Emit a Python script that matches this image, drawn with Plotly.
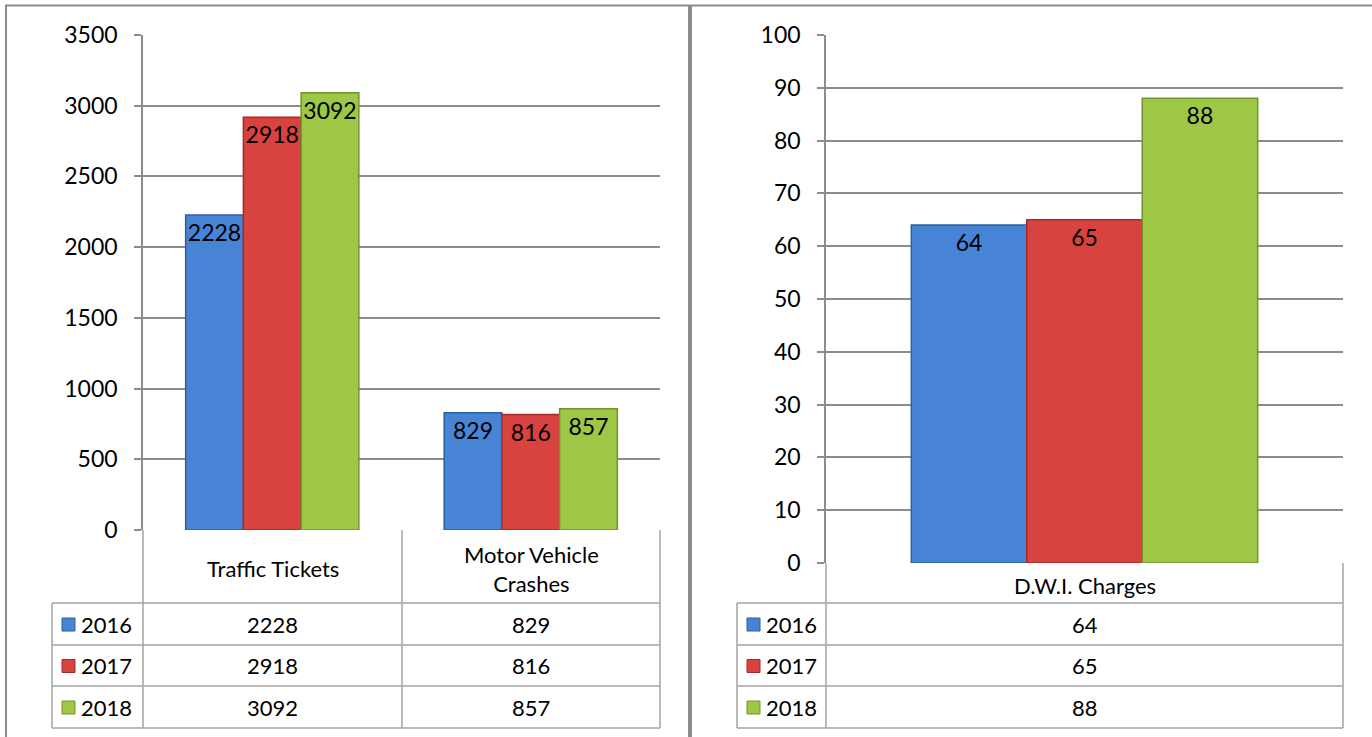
import plotly.graph_objects as go

# data
years = ['2016', '2017', '2018']
left_categories = ['Traffic Tickets', 'Motor Vehicle<br>Crashes']
left_values = {
    '2016': [2228, 829],
    '2017': [2918, 816],
    '2018': [3092, 857],
}
right_categories = ['D.W.I. Charges']
right_values = {
    '2016': [64],
    '2017': [65],
    '2018': [88],
}
left_ticks = [0, 500, 1000, 1500, 2000, 2500, 3000, 3500]
right_ticks = [0, 10, 20, 30, 40, 50, 60, 70, 80, 90, 100]

colors = {'2016': '#4884D5', '2017': '#D8423F', '2018': '#9DC744'}
edges = {'2016': '#2F5F9E', '2017': '#A52C2A', '2018': '#72942C'}

W, H = 1372, 737
FONT = 'Lato, Carlito, sans-serif'
GRID = '#8C8C8C'
TABLE = '#A3A3A3'


def px(x):
    return x / W


def py(y):
    return 1 - y / H


fig = go.Figure()

for yr in years:
    fig.add_trace(go.Bar(
        x=left_categories, y=left_values[yr], name=yr,
        marker=dict(color=colors[yr], line=dict(color=edges[yr], width=1.5)),
        texttemplate='%{y}', textposition='inside', insidetextanchor='end',
        textangle=0, constraintext='none',
        textfont=dict(color='black', size=23, family=FONT),
        xaxis='x', yaxis='y', showlegend=False,
    ))
    fig.add_trace(go.Bar(
        x=right_categories, y=right_values[yr], name=yr,
        marker=dict(color=colors[yr], line=dict(color=edges[yr], width=1.5)),
        texttemplate='%{y}', textposition='inside', insidetextanchor='end',
        textangle=0, constraintext='none',
        textfont=dict(color='black', size=23, family=FONT),
        xaxis='x2', yaxis='y2', showlegend=False,
    ))

axis_y = dict(
    showgrid=True, gridcolor=GRID, gridwidth=1.5,
    ticks='outside', ticklen=7, tickcolor=GRID, tickwidth=1.5,
    ticklabelstandoff=12,
    showline=True, linecolor=GRID, linewidth=1.5, automargin=False,
    zeroline=False, tickfont=dict(size=23, color='black', family=FONT),
)
axis_x = dict(showticklabels=False, showgrid=False, zeroline=False, ticks='',
              automargin=False)

fig.update_layout(
    width=W, height=H,
    margin=dict(l=0, r=0, t=0, b=0, pad=0, autoexpand=False),
    paper_bgcolor='white', plot_bgcolor='white',
    font=dict(family=FONT, color='black', size=22),
    barmode='group', bargap=0.33, bargroupgap=0,
    xaxis=dict(domain=[px(143), px(660)], anchor='y', **axis_x),
    yaxis=dict(domain=[py(530), py(35)], anchor='x', range=[0, 3500],
               tickvals=left_ticks, **axis_y),
    xaxis2=dict(domain=[px(826), px(1343)], anchor='y2', **axis_x),
    yaxis2=dict(domain=[py(563), py(35)], anchor='x2', range=[0, 100],
                tickvals=right_ticks, **axis_y),
)

shapes = []
annotations = []


def line(x0, y0, x1, y1, color=TABLE, width=1.5):
    shapes.append(dict(type='line', xref='paper', yref='paper',
                       x0=px(x0), y0=py(y0), x1=px(x1), y1=py(y1),
                       line=dict(color=color, width=width)))


def text(x, y, s, anchor='center'):
    annotations.append(dict(xref='paper', yref='paper', x=px(x), y=py(y),
                            text=s, showarrow=False, xanchor=anchor,
                            yanchor='middle',
                            font=dict(size=22, color='black', family=FONT)))


def data_table(cats, values, col_edges, leg_left, cat_top, row_edges):
    # verticals
    for xe in col_edges:
        line(xe, cat_top, xe, row_edges[-1])
    line(leg_left, row_edges[0], leg_left, row_edges[-1])
    for ye in row_edges:
        line(leg_left, ye, col_edges[-1], ye)
    centers = [(col_edges[i] + col_edges[i + 1]) / 2 for i in range(len(cats))]
    for c, cx in zip(cats, centers):
        text(cx, (cat_top + row_edges[0]) / 2 + 2, c)
    for i, yr in enumerate(years):
        cy = (row_edges[i] + row_edges[i + 1]) / 2
        shapes.append(dict(type='rect', xref='paper', yref='paper',
                           x0=px(leg_left + 10), x1=px(leg_left + 23),
                           y0=py(cy - 6), y1=py(cy + 7),
                           fillcolor=colors[yr],
                           line=dict(color=edges[yr], width=1)))
        text(leg_left + 27, cy, yr, anchor='left')
        for v, cx in zip(values[yr], centers):
            text(cx, cy, str(v))


data_table(left_categories, left_values, [143, 402, 660], 52, 530,
           [603, 645, 686, 728])
data_table(right_categories, right_values, [826, 1343], 737, 563,
           [603, 645, 686, 728])

# outer frame and divider
line(5, 5.5, W, 5.5, color=GRID, width=2)
line(6, 5, 6, H, color=GRID, width=2)
line(690, 5, 690, H, color=GRID, width=4)

fig.update_layout(shapes=shapes, annotations=annotations)

fig.write_html("out.html", config={'displayModeBar': False},
               post_script="document.body.style.margin='0';"
                           "document.body.style.overflow='hidden';")
